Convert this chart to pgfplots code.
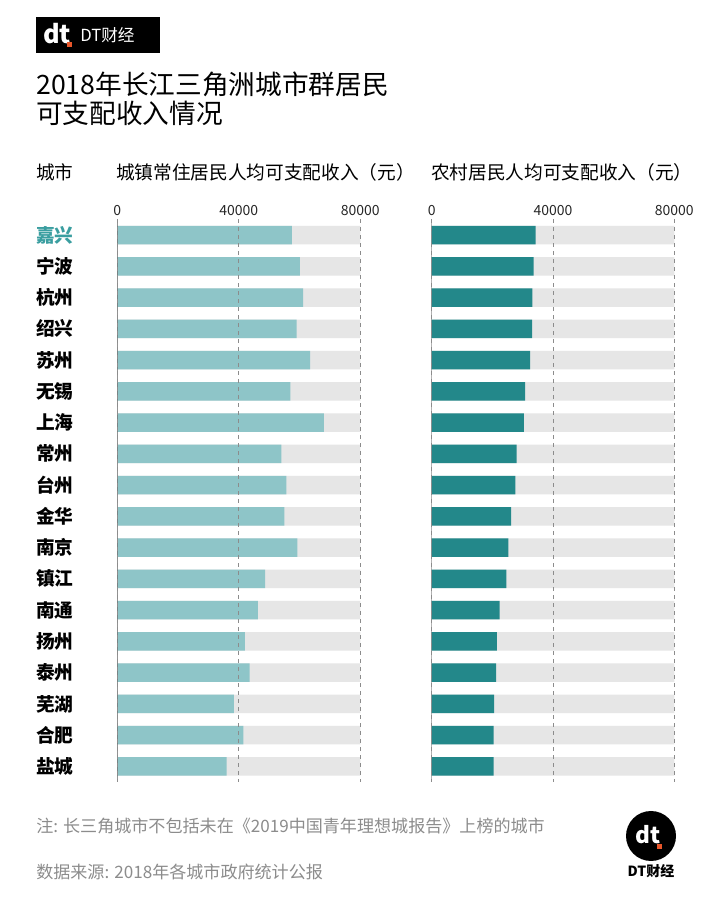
\documentclass[border=0pt]{standalone}
\usepackage{pgfplots}
\usepackage{pgfplotstable}
\pgfplotsset{compat=1.18}
\usepackage{fontspec}
\setmainfont{Noto Sans CJK SC}
\definecolor{lightteal}{HTML}{8EC5C8}
\definecolor{darkteal}{HTML}{23888A}
\definecolor{bggray}{HTML}{E6E6E6}
\definecolor{jxteal}{HTML}{3A9EA0}
\definecolor{footgray}{HTML}{8C8C8C}
\definecolor{dtorange}{HTML}{E8562A}

\pgfplotstableread{
idx urban rural full
0  57437 34279 80000
1  60134 33633 80000
2  61172 33193 80000
3  59049 33097 80000
4  63481 32420 80000
5  56989 30787 80000
6  68034 30375 80000
7  54000 28014 80000
8  55705 27570 80000
9  55042 26218 80000
10 59308 25263 80000
11 48688 24600 80000
12 46321 22369 80000
13 41999 21457 80000
14 43578 21251 80000
15 38379 20550 80000
16 41484 20410 80000
17 35969 20394 80000
}\data

\pgfplotsset{
  barpanel/.style={
    scale only axis, height=422pt,
    xmin=0, xmax=80000, ymin=-0.5, ymax=17.5, y dir=reverse,
    xbar, bar width=13.9pt, bar shift=0pt,
    axis line style={draw=none},
    xtick={0,40000,80000}, xticklabel pos=upper,
    major tick length=0pt,
    scaled x ticks=false,
    /pgf/number format/1000 sep={},
    /pgf/number format/assume math mode=true,
    xticklabel style={font=\fontsize{10.5}{12}\selectfont, text=black!85, yshift=-1pt},
    xmajorgrids, grid style={dashed, black!45, line width=0.5pt},
    axis on top,
  }
}

\begin{document}
\begin{tikzpicture}[x=0.75pt, y=0.75pt]
\fill[white] (0,0) rectangle (720,900);
\coordinate (LA) at (117.3,117.9);
\coordinate (RA) at (431.7,117.9);

% top logo
\fill[black] (36,847) rectangle (160,883);
\node[white, font=\bfseries\fontsize{19}{19}\selectfont, anchor=west, inner sep=0pt] at (43,866) {dt};
\fill[dtorange] (66.5,852.5) rectangle (71.5,857.5);
\node[white, font=\fontsize{12.5}{13}\selectfont, anchor=west, inner sep=0pt] at (80,865) {DT财经};

% title
\node[anchor=west, inner sep=0pt, font=\fontsize{20}{22}\selectfont] at (36,816) {2018年长江三角洲城市群居民};
\node[anchor=west, inner sep=0pt, font=\fontsize{20}{22}\selectfont] at (36,787) {可支配收入情况};

% headers
\node[anchor=west, inner sep=0pt, font=\fontsize{14}{15}\selectfont] at (36,728) {城市};
\node[anchor=west, inner sep=0pt, font=\fontsize{14}{15}\selectfont] at (116,728) {城镇常住居民人均可支配收入（元）};
\node[anchor=west, inner sep=0pt, font=\fontsize{14}{15}\selectfont] at (431,728) {农村居民人均可支配收入（元）};

% left panel
\begin{axis}[barpanel,
  at={(LA)}, anchor=south west, width=182.25pt,
  ytick={0,...,17},
  yticklabels={\textcolor{jxteal}{嘉兴},宁波,杭州,绍兴,苏州,无锡,上海,常州,台州,金华,南京,镇江,南通,扬州,泰州,芜湖,合肥,盐城},
  yticklabel style={anchor=west, inner sep=0pt, xshift=-61pt, font=\bfseries\fontsize{14}{14}\selectfont},
]
\addplot[fill=bggray, draw=none] table[x=full, y=idx]{\data};
\addplot[fill=lightteal, draw=none] table[x=urban, y=idx]{\data};
\draw[black!65, line width=1pt] (axis cs:0,-0.5) -- (axis cs:0,17.5);
\end{axis}

% right panel
\begin{axis}[barpanel,
  at={(RA)}, anchor=south west, width=181.95pt,
  ytick=\empty,
]
\addplot[fill=bggray, draw=none] table[x=full, y=idx]{\data};
\addplot[fill=darkteal, draw=none] table[x=rural, y=idx]{\data};
\draw[black!85, line width=1pt] (axis cs:0,-0.5) -- (axis cs:0,17.5);
\end{axis}

% footer
\node[anchor=west, inner sep=0pt, text=footgray, font=\fontsize{12.8}{14}\selectfont] at (36,74) {注: 长三角城市不包括未在《2019中国青年理想城报告》上榜的城市};
\node[anchor=west, inner sep=0pt, text=footgray, font=\fontsize{12.8}{14}\selectfont] at (36,28) {数据来源: 2018年各城市政府统计公报};

% bottom logo
\fill[black] (651,64) circle (25);
\node[white, font=\bfseries\fontsize{17}{17}\selectfont, inner sep=0pt] at (648,65) {dt};
\fill[dtorange] (657,50.5) rectangle (662,55.5);
\node[font=\bfseries\fontsize{10.5}{11}\selectfont, inner sep=0pt] at (651,29) {DT财经};
\end{tikzpicture}
\end{document}
